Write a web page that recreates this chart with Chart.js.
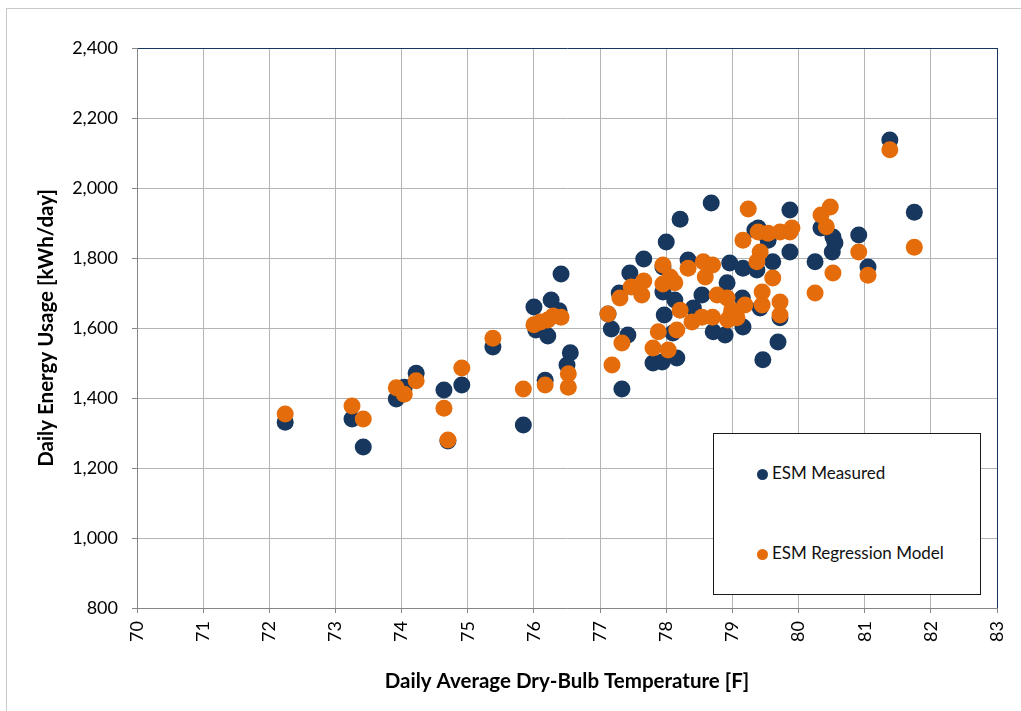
<!DOCTYPE html>
<html>
<head>
<meta charset="utf-8">
<script src="https://cdn.jsdelivr.net/npm/chart.js@4"></script>
<style>
  body { margin: 0; background: #fff; font-family: Lato, sans-serif; }
  #frame { position: absolute; left: 6px; top: 8px; width: 1060px; height: 740px; border: 1px solid #c8c8c8; }
  #wrap { position: absolute; left: 0; top: 0; width: 1021px; height: 711px; }
  #legendBox { position: absolute; left: 713px; top: 433px; width: 266px; height: 160px; border: 1px solid #1a1a1a; background: #fff; }
  .item { position: absolute; left: 43px; font-size: 17px; color: #111; line-height: 20px; }
  .dot { display: inline-block; width: 11px; height: 11px; border-radius: 50%; margin-right: 4px; vertical-align: -1px; }
</style>
</head>
<body>
<div id="frame"></div>
<div id="wrap"><canvas id="chart"></canvas></div>
<div id="legendBox">
  <div class="item" style="top:29px"><span class="dot" style="background:#17375e"></span>ESM Measured</div>
  <div class="item" style="top:109px"><span class="dot" style="background:#e46c0a"></span>ESM Regression Model</div>
</div>
<script>
// tick values
const xTickValues = [70, 71, 72, 73, 74, 75, 76, 77, 78, 79, 80, 81, 82, 83];
const yTickValues = [800, 1000, 1200, 1400, 1600, 1800, 2000, 2200, 2400];

// ESM measured (temp F, kWh/day)
const measuredTemp = [72.24, 73.25, 73.42, 73.92, 74.04, 74.22, 74.64, 74.70, 74.91, 75.38, 75.84, 76.00, 76.03, 76.21, 76.26, 76.38, 76.17, 76.41, 76.55, 76.50,
  77.17, 77.12, 77.29, 77.33, 77.42, 77.45, 77.66, 78.00, 78.21, 78.68, 77.95, 77.95, 78.13, 77.97, 78.10, 77.80, 77.94, 78.16, 78.33, 78.41,
  78.54, 78.71, 78.89, 78.92, 78.96, 79.16, 79.16, 79.34, 79.37, 79.39, 79.54, 79.61, 79.15, 79.42, 79.72, 79.69, 79.46, 79.87, 79.87, 80.25,
  80.34, 80.52, 80.55, 80.51, 80.91, 81.05, 81.38, 81.75];
const measuredKwh = [1331, 1340, 1260, 1397, 1431, 1471, 1423, 1277, 1437, 1546, 1323, 1660, 1594, 1577, 1680, 1649, 1451, 1754, 1529, 1494,
  1597, 1640, 1700, 1426, 1580, 1757, 1797, 1846, 1911, 1957, 1774, 1703, 1680, 1637, 1586, 1500, 1503, 1514, 1794, 1657,
  1694, 1589, 1580, 1729, 1786, 1771, 1603, 1880, 1766, 1886, 1851, 1789, 1686, 1657, 1629, 1560, 1509, 1937, 1817, 1789,
  1886, 1860, 1843, 1817, 1866, 1774, 2137, 1931];

// ESM regression model (temp F, kWh/day)
const modelTemp = [72.24, 73.25, 73.42, 73.92, 74.04, 74.22, 74.64, 74.70, 74.91, 75.38, 75.84, 76.00, 76.21, 76.41, 76.17, 76.52, 76.52, 76.29, 77.12, 77.30,
  77.18, 77.33, 77.47, 77.66, 77.63, 77.95, 77.95, 78.13, 78.33, 78.56, 78.70, 78.59, 78.21, 77.88, 78.16, 77.80, 78.03, 78.39, 78.54, 78.77,
  78.96, 79.19, 78.70, 79.24, 79.16, 79.39, 79.54, 79.72, 79.87, 79.42, 79.37, 79.61, 79.45, 79.45, 79.72, 79.72, 79.90, 80.48, 80.34, 80.42,
  80.91, 80.52, 80.25, 81.05, 81.38, 81.75, 78.92, 78.99, 79.07, 78.93, 78.06, 76.10];
const modelKwh = [1354, 1377, 1340, 1429, 1411, 1449, 1371, 1280, 1486, 1571, 1426, 1609, 1623, 1631, 1437, 1469, 1431, 1634, 1640, 1686,
  1494, 1557, 1717, 1734, 1694, 1780, 1726, 1729, 1771, 1789, 1780, 1746, 1651, 1589, 1594, 1543, 1537, 1617, 1631, 1694,
  1631, 1666, 1631, 1940, 1851, 1874, 1871, 1874, 1874, 1817, 1789, 1743, 1703, 1666, 1674, 1637, 1886, 1946, 1923, 1889,
  1817, 1757, 1700, 1751, 2109, 1831, 1686, 1651, 1629, 1623, 1746, 1617];

const NAVY = '#17375e';
const ORANGE = '#e46c0a';
const GRID = '#b4b4b4';
const AXIS = '#868686';

const toPoints = (xs, ys) => xs.map((x, i) => ({ x: x, y: ys[i] }));

new Chart(document.getElementById('chart'), {
  type: 'scatter',
  data: {
    datasets: [
      { label: 'ESM Measured', data: toPoints(measuredTemp, measuredKwh), backgroundColor: NAVY, borderColor: NAVY, pointRadius: 8.5, borderWidth: 0, order: 2 },
      { label: 'ESM Regression Model', data: toPoints(modelTemp, modelKwh), backgroundColor: ORANGE, borderColor: ORANGE, pointRadius: 8.5, borderWidth: 0, order: 1 }
    ]
  },
  options: {
    responsive: true, maintainAspectRatio: false, animation: false,
    layout: { padding: { top: 48, right: 24, left: 0, bottom: 0 } },
    plugins: { legend: { display: false }, tooltip: { enabled: false } },
    scales: {
      x: {
        type: 'linear', min: 70, max: 83,
        afterBuildTicks: s => { s.ticks = xTickValues.map(v => ({ value: v })); },
        afterFit: s => { s.height = 103; s.paddingLeft = 0; s.paddingRight = 0; },
        grid: { color: c => c.tick && c.tick.value === 83 ? NAVY : GRID, tickColor: AXIS, tickLength: 5, lineWidth: 1 },
        border: { color: AXIS, width: 1 },
        ticks: { color: '#000', font: { family: 'Lato', size: 18 }, minRotation: 90, maxRotation: 90, padding: 8 },
        title: { display: true, text: 'Daily Average Dry-Bulb Temperature [F]', color: '#000', font: { family: 'Lato', size: 20.5, weight: 'bold' }, padding: { top: 0, bottom: 17 } }
      },
      y: {
        type: 'linear', min: 800, max: 2400,
        afterBuildTicks: s => { s.ticks = yTickValues.map(v => ({ value: v })); },
        afterFit: s => { s.width = 137; s.paddingTop = 0; s.paddingBottom = 0; },
        grid: { color: c => c.tick && c.tick.value === 2400 ? NAVY : GRID, tickColor: AXIS, tickLength: 5, lineWidth: 1 },
        border: { color: AXIS, width: 1 },
        ticks: { color: '#000', font: { family: 'Lato', size: 18 }, padding: 14, callback: v => v.toLocaleString('en-US') },
        title: { display: true, text: 'Daily Energy Usage [kWh/day]', color: '#000', font: { family: 'Lato', size: 20.5, weight: 'bold' }, padding: { top: 34, bottom: 0 } }
      }
    }
  }
});
</script>
</body>
</html>
